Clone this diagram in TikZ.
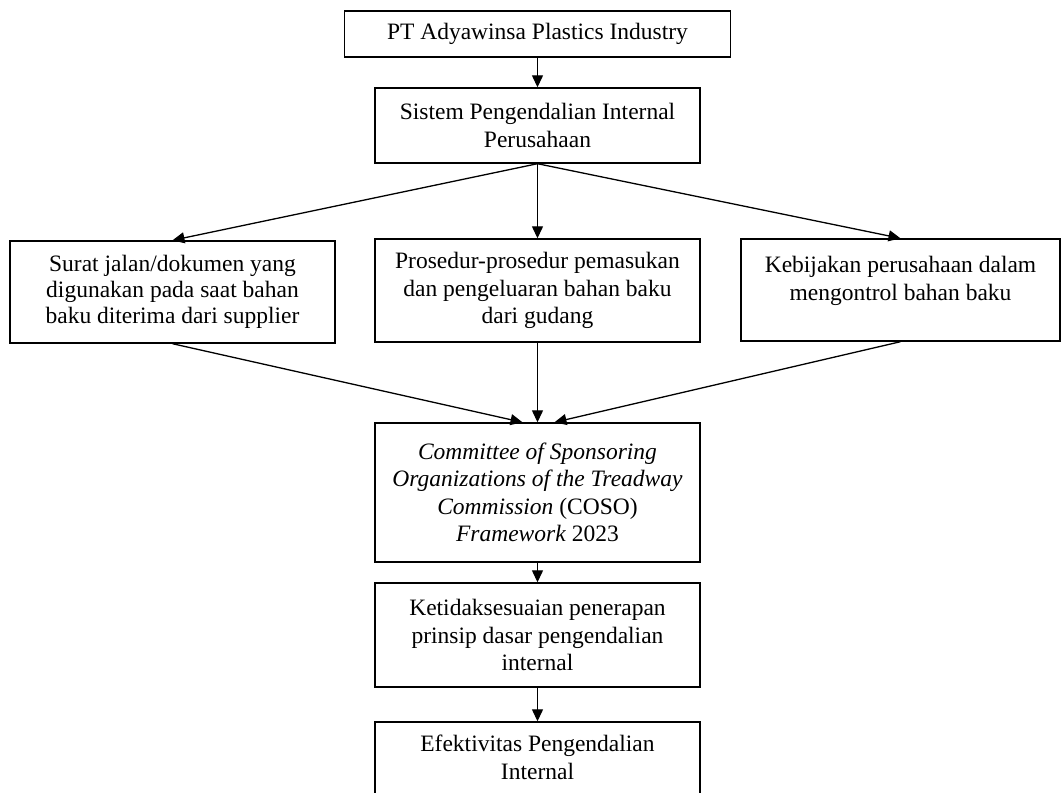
\documentclass[tikz,border=0pt]{standalone}
\usepackage{fontspec}
\setmainfont{Liberation Serif}
\usetikzlibrary{arrows.meta}
\begin{document}
\begin{tikzpicture}[x=1pt,y=-1pt,
  box/.style={draw=black, line width=1.4pt, inner sep=0pt, align=center,
    font=\fontsize{23.5}{27.5}\selectfont, text=black},
  conn/.style={line width=1.3pt, draw=black, -{Triangle[length=12pt,width=11pt]}}]
\useasboundingbox (0,0) rectangle (1061,793);
\fill[white] (0,0) rectangle (1061,793);
\node[box, minimum width=386pt, minimum height=46pt] (b1) at (537.5,34) {PT Adyawinsa Plastics Industry};
\node[box, minimum width=325pt, minimum height=75pt] (b2) at (537.5,125.5) {Sistem Pengendalian Internal\\Perusahaan};
\node[box, minimum width=325pt, minimum height=102pt, font=\fontsize{23.5}{26}\selectfont] (left) at (172.5,292) {Surat jalan/dokumen yang\\digunakan pada saat bahan\\baku diterima dari supplier};
\node[box, minimum width=325pt, minimum height=103pt] (mid) at (537.5,290.5) {Prosedur-prosedur pemasukan\\dan pengeluaran bahan baku\\dari gudang};
\node[box, minimum width=319pt, minimum height=102pt] (right) at (900.5,290) {Kebijakan perusahaan dalam\\mengontrol bahan baku\\[-12pt]\strut};
\node[box, minimum width=325pt, minimum height=139pt] (coso) at (537.5,492.5) {\textit{Committee of Sponsoring}\\\textit{Organizations of the Treadway}\\\textit{Commission} (COSO)\\\textit{Framework} 2023};
\node[box, minimum width=325pt, minimum height=104pt] (ket) at (537.5,635) {Ketidaksesuaian penerapan\\prinsip dasar pengendalian\\internal};
\node[box, minimum width=325pt, minimum height=102pt] (efek) at (537.5,773) {Efektivitas Pengendalian\\Internal\\[-4pt]\strut};
\coordinate (cinL) at ([xshift=-15pt]coso.north);
\coordinate (cinR) at ([xshift=17pt]coso.north);
\draw[conn] (b1.south) -- (b2.north);
\draw[conn] (b2.south) -- (left.north);
\draw[conn] (b2.south) -- (mid.north);
\draw[conn] (b2.south) -- (right.north);
\draw[conn] (left.south) -- (cinL);
\draw[conn] (mid.south) -- (coso.north);
\draw[conn] (right.south) -- (cinR);
\draw[conn] (coso.south) -- (ket.north);
\draw[conn] (ket.south) -- (efek.north);
\end{tikzpicture}
\end{document}
